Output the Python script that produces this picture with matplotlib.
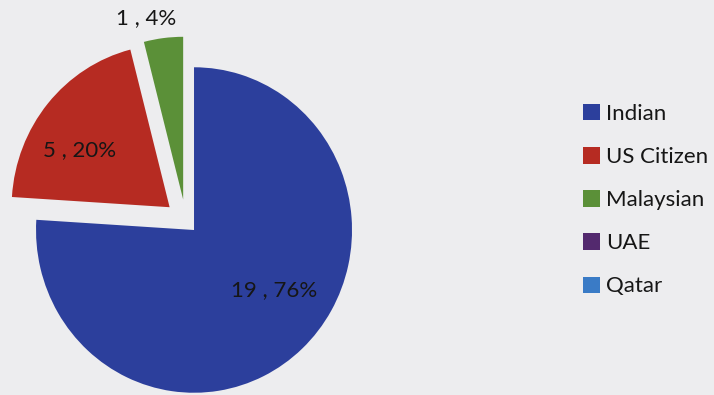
import matplotlib.pyplot as plt
from matplotlib.patches import Patch
import numpy as np

# nationality breakdown
categories = ['Indian', 'US Citizen', 'Malaysian', 'UAE', 'Qatar']
counts = [19, 5, 1, 0, 0]
colors = ['#2c3f9c', '#b62b22', '#5b9038', '#53296e', '#3a7bc6']

# layout: slice offsets (data units), label radius (fraction of R), label angle nudge (deg)
explode = [12, 21, 21, 0, 0]
label_dist = [0.63, 0.67, 1.14]
label_turn = [10.8, 8.3, 4.6]

bg = '#ededef'
W, H = 714, 395
ystretch = 1.03            # the pie is drawn a touch taller than wide
fig = plt.figure(figsize=(W / 100, H / 100), dpi=100, facecolor=bg)
ax = fig.add_axes([0, 0, 1, 1])

R = 158
cx, cy = 185.8, (H - 221) / ystretch
wedges, _ = ax.pie(counts, colors=colors, explode=explode, radius=R,
                   center=(cx, cy), startangle=90, counterclock=False,
                   wedgeprops={'linewidth': 0}, frame=True)
ax.set_aspect('auto')
ax.set_xlim(0, W)
ax.set_ylim(0, H / ystretch)
ax.set_facecolor(bg)
ax.axis('off')

total = sum(counts)
for w, n, d, t in zip(wedges, counts, label_dist, label_turn):
    if n == 0:
        continue
    ang = np.deg2rad((w.theta1 + w.theta2) / 2 + t)
    x0, y0 = w.center
    ax.text(x0 + d * R * np.cos(ang), y0 + d * R * np.sin(ang),
            f'{n} , {round(100 * n / total)}%', ha='center', va='center',
            fontsize=16, family='Lato', color='#161616')

handles = [Patch(facecolor=c, edgecolor='none') for c in colors]
fig.legend(handles, categories, loc='upper left',
           bbox_to_anchor=(563 / W, 1 - 84 / H), frameon=False,
           prop={'family': 'Lato', 'size': 16}, labelcolor='#161616',
           handlelength=0.75, handleheight=0.75, handletextpad=0.3,
           labelspacing=1.04)

fig.savefig('out.png', dpi=100, facecolor=bg)
